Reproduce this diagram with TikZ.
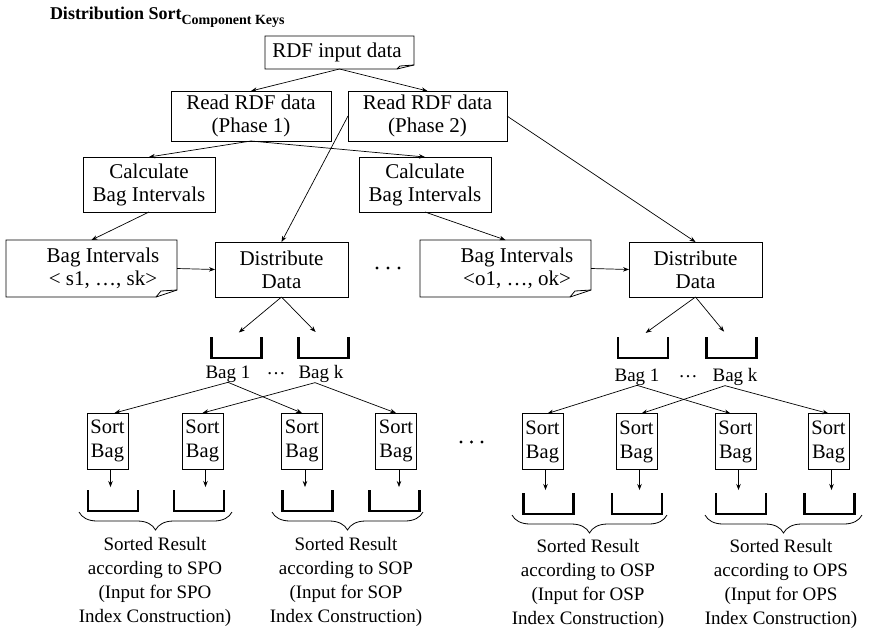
\documentclass[tikz,border=0pt]{standalone}
\usepackage{fontspec}
\setmainfont{Liberation Serif}
\usetikzlibrary{arrows.meta,calc,decorations.pathreplacing}
\begin{document}
\begin{tikzpicture}[x=1pt,y=-1pt,
  every node/.style={inner sep=0pt, outer sep=0pt},
  box/.style={draw, line width=0.8pt, align=center, font=\fontsize{21}{23}\selectfont},
  shell/.style={inner sep=0pt},
  txt/.style={align=center, font=\fontsize{21}{23}\selectfont},
  sortbox/.style={draw, line width=0.8pt, align=center, minimum width=41pt,
    minimum height=56pt, font=\fontsize{20.5}{24}\selectfont},
  holder/.style={minimum width=50pt, minimum height=21pt},
  lbl/.style={font=\fontsize{19}{22}\selectfont},
  res/.style={align=center, anchor=north, font=\fontsize{19}{24.2}\selectfont},
  conn/.style={line width=0.7pt, -{Stealth[length=6pt,width=4.5pt]}},
  outline/.style={line width=0.8pt, line join=miter},
  bagline/.style={line width=2.6pt, line join=miter},
  brc/.style={decorate, decoration={brace, mirror, amplitude=18pt}, line width=0.8pt}
]
\useasboundingbox (0,0) rectangle (872,630);

% title
\node[anchor=base west] (title) at (50,19)
  {\fontsize{18}{20}\selectfont\bfseries Distribution Sort\raisebox{-5pt}{\fontsize{14}{16}\selectfont Component Keys}};

% input document
\node[shell, minimum width=149pt, minimum height=33pt] (rdf) at (339.5,52.5) {};
\node[txt] (rdft) at (337,52) {RDF input data};
\draw[outline] (rdf.north west) -- (rdf.north east) -- ($(rdf.south east)+(0,-4)$)
  -- ($(rdf.south east)+(-17,0)$) -- (rdf.south west) -- cycle;
\draw[outline] ($(rdf.south east)+(0,-4)$) -- ($(rdf.south east)+(-14,-3)$) -- ($(rdf.south east)+(-17,0)$);

% reading phases
\node[box, minimum width=160pt, minimum height=50pt] (ph1) at (251,116) {Read RDF data\\(Phase 1)};
\node[box, minimum width=159pt, minimum height=50pt] (ph2) at (427.5,116) {Read RDF data\\(Phase 2)};

% interval calculation
\node[box, minimum width=132pt, minimum height=55pt] (calcL) at (149,184.5) {Calculate\\Bag Intervals};
\node[box, minimum width=132pt, minimum height=55pt] (calcR) at (425,184.5) {Calculate\\Bag Intervals};

% interval documents
\node[shell, minimum width=171pt, minimum height=57pt] (bilL) at (91.5,268.5) {};
\node[txt] (bilLt) at (103,268.5) {Bag Intervals\\< s1, …, sk>};
\node[shell, minimum width=171pt, minimum height=57pt] (bilR) at (505.5,268.5) {};
\node[txt] (bilRt) at (517,268.5) {Bag Intervals\\<o1, …, ok>};
\foreach \n in {bilL,bilR}{
  \draw[outline] (\n.north west) -- (\n.north east) -- ($(\n.south east)+(0,-7)$)
    -- ($(\n.south east)+(-21,0)$) -- (\n.south west) -- cycle;
  \draw[outline] ($(\n.south east)+(0,-7)$) -- ($(\n.south east)+(-16,-6)$) -- ($(\n.south east)+(-21,0)$);
}

% distribution
\node[box, minimum width=133pt, minimum height=55pt] (distL) at (281.5,269.5) {Distribute\\Data};
\node[box, minimum width=133pt, minimum height=55pt] (distR) at (695.5,269.5) {Distribute\\Data};

% dots between the two halves
\foreach \x in {377,388,399}{\fill (\x,268) circle (1.7);}
\foreach \x in {461,471.5,482}{\fill (\x,442) circle (1.7);}

% bags
\node[holder] (bg1L) at (236.5,347.5) {};
\node[holder] (bgkL) at (323.5,347.5) {};
\node[holder] (bg1R) at (643,347.5) {};
\node[holder] (bgkR) at (731.5,347.5) {};
\node[lbl] (b1L) at (228,374) {Bag 1};
\node[lbl] (dL)  at (276,374) {…};
\node[lbl] (bkL) at (321,374) {Bag k};
\node[lbl] (b1R) at (637,377) {Bag 1};
\node[lbl] (dR)  at (688,377) {…};
\node[lbl] (bkR) at (735,377) {Bag k};

% sort steps
\foreach \n/\x/\y in {s1/107.5/441,s2/202.5/441,s3/302/441,s4/396/441,
                     s5/542.5/441.5,s6/636.5/441.5,s7/735.5/441.5,s8/828.5/441.5}{
  \node[sortbox] (\n) at (\x,\y) {Sort\\Bag};
}

% sorted results
\foreach \n/\x/\y in {r1/113/500.5,r2/199/500.5,r3/307.5/500.5,r4/394.5/500.5,
                     r5/548.5/503.5,r6/637/503.5,r7/741/503.5,r8/829.5/503.5}{
  \node[holder, minimum height=21pt] (\n) at (\x,\y) {};
}
\foreach \n in {bg1L,bgkL,bg1R,bgkR,r1,r2,r3,r4,r5,r6,r7,r8}{
  \draw[bagline] (\n.north west) -- (\n.south west) -- (\n.south east) -- (\n.north east);
}

% connectors, upper part
\draw[conn] (rdf.south) -- (ph1.north);
\draw[conn] (rdf.south) -- (ph2.north);
\draw[conn] (ph1.south) -- (calcL.north);
\draw[conn] (ph1.south) -- (calcR.north);
\draw[conn] (ph2.west) -- (distL.north);
\draw[conn] (ph2.east) -- (distR.north);
\draw[conn] (calcL.south) -- (bilL.north);
\draw[conn] (calcR.south) -- (bilR.north);
\draw[conn] (bilL.east) -- (distL.west);
\draw[conn] (bilR.east) -- (distR.west);
\draw[conn, shorten >=7pt] (distL.south) -- ([xshift=-3pt]bg1L.north);
\draw[conn, shorten >=7pt] (distL.south) -- ([xshift=-3pt]bgkL.north);
\draw[conn, shorten >=7pt] (distR.south) -- ([xshift=-3pt]bg1R.north);
\draw[conn, shorten >=7pt] (distR.south) -- ([xshift=-3pt]bgkR.north);

% connectors, lower part
\draw[conn] (b1L.south) -- ([xshift=7pt]s1.north);
\draw[conn] (b1L.south) -- (s3.north);
\draw[conn] ([xshift=-6pt]bkL.south) -- (s2.north);
\draw[conn] ([xshift=-6pt]bkL.south) -- (s4.north);
\draw[conn] (b1R.south) -- ([xshift=5pt]s5.north);
\draw[conn] (b1R.south) -- ([xshift=-5pt]s7.north);
\draw[conn] ([xshift=-10pt]bkR.south) -- ([xshift=5pt]s6.north);
\draw[conn] ([xshift=-10pt]bkR.south) -- (s8.north);
\foreach \s/\r in {s1/r1,s2/r2,s3/r3,s4/r4,s5/r5,s6/r6,s7/r7,s8/r8}{
  \draw[conn, shorten >=3pt] ([xshift=3pt]\s.south) -- ([xshift=3pt]\s.south |- \r.north);
}

% braces and result captions
\draw[brc] (79,512) -- (232,512) coordinate[midway] (g1);
\draw[brc] (272,512) -- (423,512) coordinate[midway] (g2);
\draw[brc] (512,515) -- (667,515) coordinate[midway] (g3);
\draw[brc] (705,515) -- (862,515) coordinate[midway] (g4);
\node[res] (t1) at (155,537) {Sorted Result\\according to SPO\\(Input for SPO\\Index Construction)};
\node[res] (t2) at (346,537) {Sorted Result\\according to SOP\\(Input for SOP\\Index Construction)};
\node[res] (t3) at (588,539) {Sorted Result\\according to OSP\\(Input for OSP\\Index Construction)};
\node[res] (t4) at (781,539) {Sorted Result\\according to OPS\\(Input for OPS\\Index Construction)};
\end{tikzpicture}
\end{document}
